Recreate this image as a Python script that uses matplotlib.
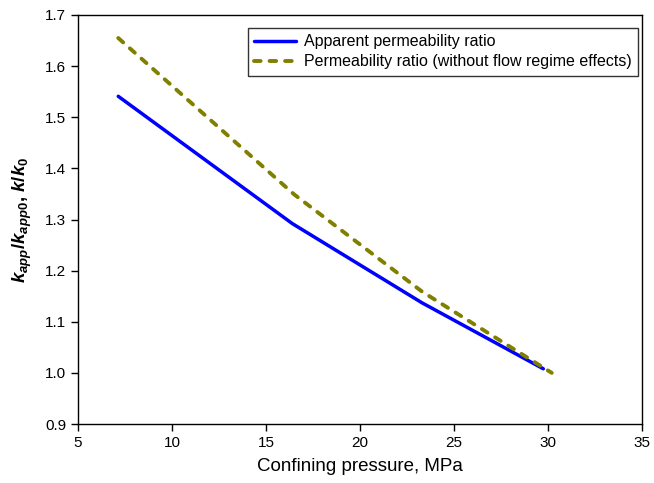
import matplotlib
matplotlib.use("Agg")
import matplotlib.pyplot as plt

plt.rcParams['font.family'] = ['Liberation Sans', 'DejaVu Sans']
plt.rcParams['mathtext.fontset'] = 'custom'
plt.rcParams['mathtext.it'] = 'Liberation Sans:italic:bold'
plt.rcParams['mathtext.rm'] = 'Liberation Sans:bold'
plt.rcParams['mathtext.bf'] = 'Liberation Sans:italic:bold'

pressure_app = [7.14, 16.4, 23.3, 29.75]
ratio_app = [1.541, 1.292, 1.137, 1.008]
pressure_noflow = [7.14, 16.5, 23.3, 30.2]
ratio_noflow = [1.655, 1.349, 1.159, 1.0]

xticks = [5, 10, 15, 20, 25, 30, 35]
yticks = [0.9, 1.0, 1.1, 1.2, 1.3, 1.4, 1.5, 1.6, 1.7]

fig = plt.figure(figsize=(6.54, 4.83), dpi=100)
ax = fig.add_axes([78/654, 1 - 424/483, 564/654, 409/483])

ax.plot(pressure_app, ratio_app, color='#0000ff', lw=2.5, solid_capstyle='round',
        label='Apparent permeability ratio')
ax.plot(pressure_noflow, ratio_noflow, color='#808000', lw=2.8, ls=(0, (1.7, 2.3)),
        dash_capstyle='round', label='Permeability ratio (without flow regime effects)')

ax.set_xlim(5, 35)
ax.set_ylim(0.9, 1.7)
ax.set_xticks(xticks)
ax.set_yticks(yticks)
ax.set_yticklabels([f"{v:.1f}" for v in yticks])
ax.tick_params(direction='out', length=5, width=1, labelsize=11, colors='black')
for s in ax.spines.values():
    s.set_linewidth(1.0)

ax.set_xlabel('Confining pressure, MPa', fontsize=13.5, labelpad=6)
ax.set_ylabel(r'$k_{app}/k_{app0}$, $k/k_0$', fontsize=13.5, fontweight='bold', labelpad=8)

leg = ax.legend(loc='upper right', bbox_to_anchor=(560/564, (424 - 28)/409), fontsize=11.5,
                frameon=True, fancybox=False, edgecolor='black', handlelength=2.6,
                borderpad=0.4, labelspacing=0.3, handletextpad=0.5, borderaxespad=0)
leg.get_frame().set_linewidth(1.0)

fig.savefig('out.png', dpi=100)
